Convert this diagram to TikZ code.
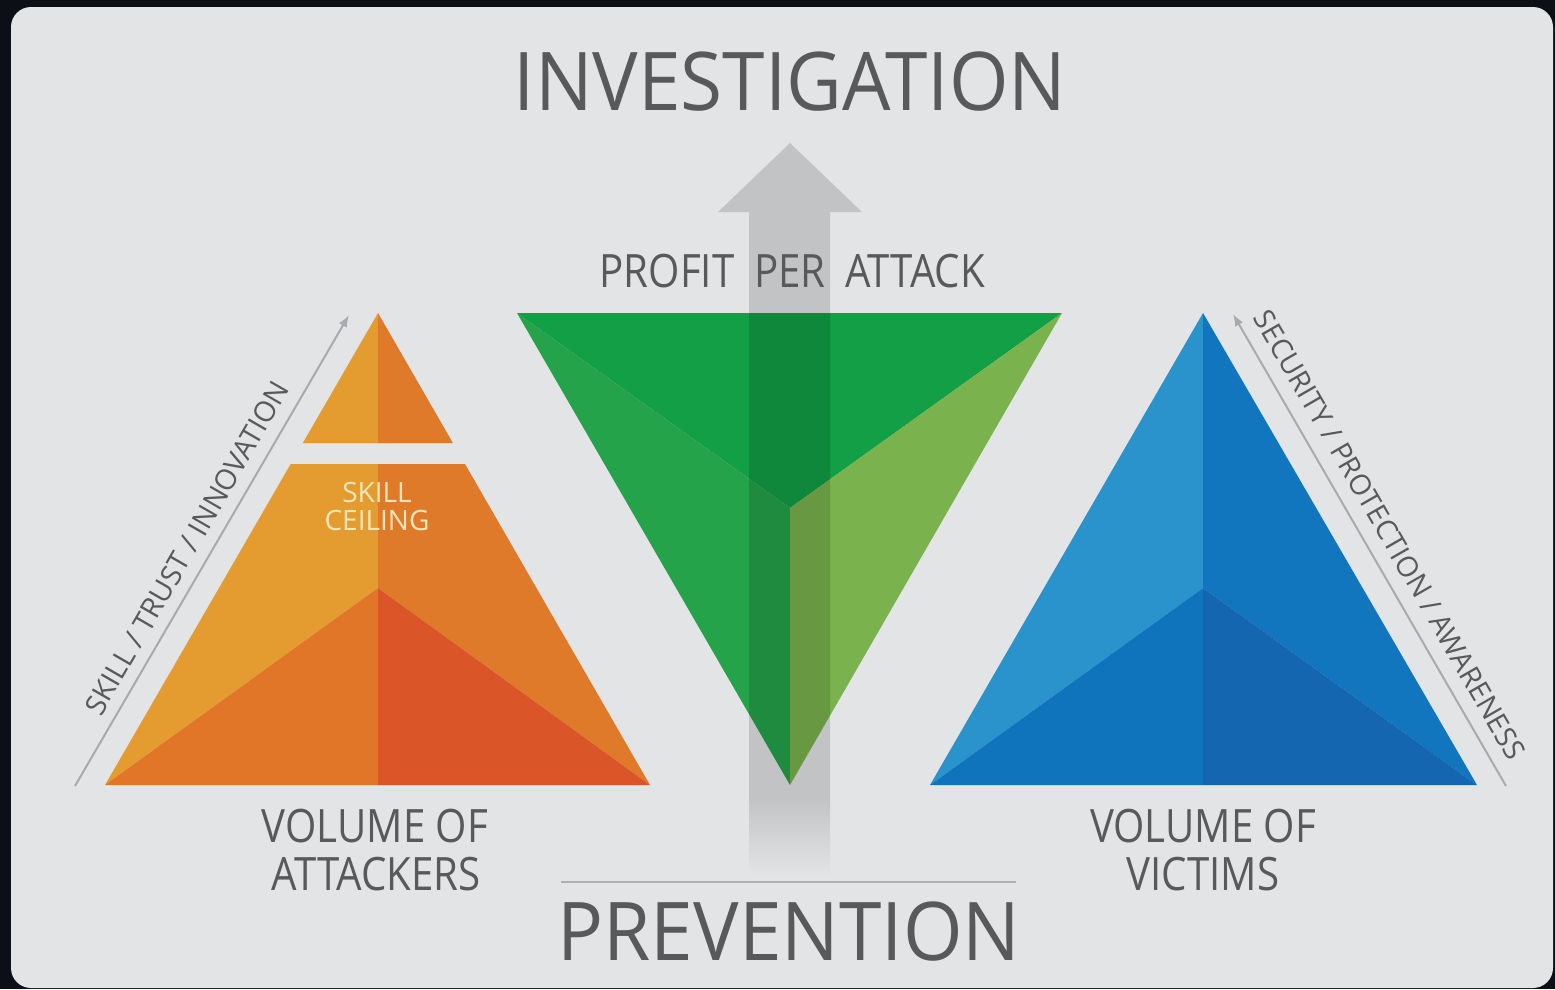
\documentclass[tikz,border=0pt]{standalone}
\usepackage{fontspec}
\setmainfont{Open Sans}
\newfontfamily\titlefont[FakeStretch=0.945]{Open Sans}
\newfontfamily\midfont[FakeStretch=0.875]{Open Sans}
\usetikzlibrary{arrows.meta}
\definecolor{bgdark}{HTML}{0C0F16}
\definecolor{panel}{HTML}{E3E4E6}
\definecolor{txt}{HTML}{58595B}
\definecolor{cream}{HTML}{F7E7B8}
\definecolor{axis}{HTML}{A8AAAD}
\definecolor{shaftfade}{HTML}{C3C4C6}
\definecolor{OA}{HTML}{E49B2F}
\definecolor{OB}{HTML}{E07A2B}
\definecolor{OC}{HTML}{E17528}
\definecolor{OD}{HTML}{DA5628}
\definecolor{GA}{HTML}{139F45}
\definecolor{GB}{HTML}{24A34A}
\definecolor{GC}{HTML}{7AB24E}
\definecolor{BA}{HTML}{2A93CB}
\definecolor{BB}{HTML}{1176BD}
\definecolor{BC}{HTML}{1074BC}
\definecolor{BD}{HTML}{1466B0}
\tikzset{
  bigtitle/.style={text=txt,inner sep=0pt,anchor=base,font=\titlefont\fontsize{81}{81}\selectfont},
  midlabel/.style={text=txt,inner sep=0pt,anchor=base,font=\midfont\fontsize{46}{46}\selectfont},
  sidelabel/.style={text=txt,inner sep=0pt,font=\fontsize{28.5}{28.5}\selectfont},
  ceiltext/.style={text=cream,inner sep=0pt,anchor=base,font=\fontsize{28}{28}\selectfont},
  axisarrow/.style={draw=axis,line width=2pt,-{Latex[length=12pt,width=9pt]}},
}
\begin{document}
\begin{tikzpicture}[x=1pt,y=-1pt]
\useasboundingbox (0,0) rectangle (1555,989);
\fill[bgdark] (0,0) rectangle (1555,989);
\fill[panel,rounded corners=20pt] (11,7) rectangle (1553,988);

% ---------- orange pyramid (attackers) ----------
\coordinate (oA) at (378,313);
\coordinate (oBL) at (105,785);
\coordinate (oBR) at (650,785);
\coordinate (oI) at (378,588);
\coordinate (oM) at (378,785);
% top piece
\fill[OA] (oA) -- (302.8,443) -- (378,443) -- cycle;
\fill[OB] (oA) -- (378,443) -- (452.9,443) -- cycle;
% lower trapezoid
\fill[OA] (290.7,464) -- (378,464) -- (oI) -- (oBL) -- cycle;
\fill[OB] (378,464) -- (465,464) -- (oBR) -- (oI) -- cycle;
\fill[OC] (oBL) -- (oI) -- (oM) -- cycle;
\fill[OD] (oI) -- (oBR) -- (oM) -- cycle;

% ---------- green inverted pyramid ----------
\coordinate (gTL) at (517,313);
\coordinate (gTR) at (1062,313);
\coordinate (gAp) at (790,785);
\coordinate (gI) at (790,508);
\fill[GA] (gTL) -- (gTR) -- (gI) -- cycle;
\fill[GB] (gTL) -- (gI) -- (gAp) -- cycle;
\fill[GC] (gTR) -- (gI) -- (gAp) -- cycle;

% ---------- blue pyramid (victims) ----------
\coordinate (bA) at (1203,313);
\coordinate (bBL) at (930,785);
\coordinate (bBR) at (1477,785);
\coordinate (bI) at (1203,588);
\coordinate (bM) at (1203,785);
\fill[BA] (bA) -- (bBL) -- (bI) -- cycle;
\fill[BB] (bA) -- (bI) -- (bBR) -- cycle;
\fill[BC] (bBL) -- (bI) -- (bM) -- cycle;
\fill[BD] (bI) -- (bBR) -- (bM) -- cycle;

% ---------- central arrow ----------
\fill[black,opacity=0.14] (749,800) -- (749,212) -- (718,212) -- (790,143) -- (862,212) -- (830,212) -- (830,800) -- cycle;
\shade[top color=shaftfade,bottom color=panel] (749,800) rectangle (830,876);

% ---------- axis arrows ----------
\coordinate (l0) at (75,786);
\coordinate (l1) at (349,315);
\coordinate (r0) at (1506,786);
\coordinate (r1) at (1233,314);
\draw[axisarrow] (l0) -- (l1);
\draw[axisarrow] (r0) -- (r1);
\node[sidelabel,rotate=60] (skilltrust) at (187,548) {SKILL / TRUST / INNOVATION};
\node[sidelabel,rotate=-60] (security) at (1390,535) {SECURITY / PROTECTION / AWARENESS};

% ---------- texts ----------
\node[bigtitle] (invest) at (790,110) {INVESTIGATION};
\node[bigtitle] (prevent) at (789,960) {PREVENTION};
\coordinate (p0) at (561,882);
\coordinate (p1) at (1016,882);
\draw[draw=shaftfade!90!black,line width=2pt] (p0) -- (p1);

\node[midlabel] (profit) at (667,287) {PROFIT};
\node[midlabel] (per) at (790,287) {PER};
\node[midlabel] (attack) at (915,287) {ATTACK};

\node[midlabel] (volA1) at (375,842) {VOLUME OF};
\node[midlabel] (volA2) at (376,890) {ATTACKERS};
\node[midlabel] (volV1) at (1203,842) {VOLUME OF};
\node[midlabel] (volV2) at (1203,890) {VICTIMS};

\node[ceiltext] (skill) at (377,502) {SKILL};
\node[ceiltext] (ceiling) at (377,530) {CEILING};
\end{tikzpicture}
\end{document}
